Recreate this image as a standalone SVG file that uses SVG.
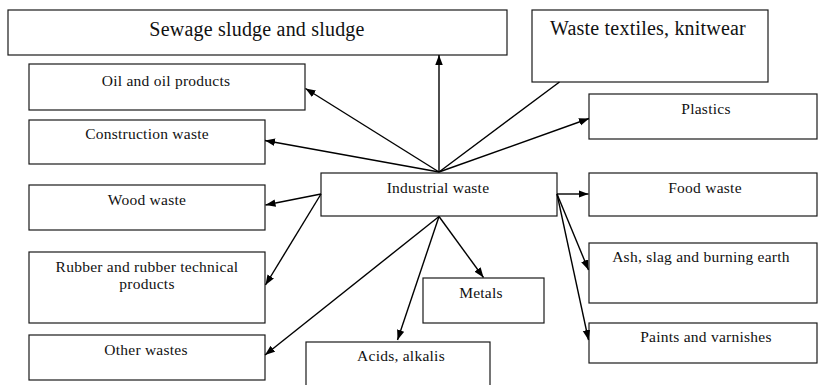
<svg xmlns="http://www.w3.org/2000/svg" width="818" height="385" viewBox="0 0 818 385">
<style>
.box{fill:#fff;stroke:#1a1a1a;stroke-width:1.2}
.t{font-family:"Liberation Serif","Times New Roman",serif;font-size:15.5px;letter-spacing:0.25px;fill:#111;text-anchor:middle}
.tl{font-family:"Liberation Serif","Times New Roman",serif;font-size:20px;letter-spacing:0.2px;fill:#111;text-anchor:middle}
.c{stroke:#000;stroke-width:1.4;fill:none}
.a{marker-end:url(#arr)}
</style>
<defs>
<marker id="arr" markerUnits="userSpaceOnUse" markerWidth="11" markerHeight="8" refX="10" refY="3.75" orient="auto">
<path d="M0,0 L10,3.75 L0,7.5 z" fill="#000"/>
</marker>
</defs>
<rect width="818" height="385" fill="#fff"/>
<g id="sewage"><rect class="box" x="8" y="10" width="499" height="45"/><text class="tl" x="257" y="36">Sewage sludge and sludge</text></g>
<g id="textiles"><rect class="box" x="532" y="10" width="236" height="72"/><text class="tl" x="648" y="35">Waste textiles, knitwear</text></g>
<g id="oil"><rect class="box" x="29" y="64" width="276" height="46"/><text class="t" x="166" y="86">Oil and oil products</text></g>
<g id="construction"><rect class="box" x="29" y="120" width="236" height="44"/><text class="t" x="147" y="139">Construction waste</text></g>
<g id="wood"><rect class="box" x="29" y="185" width="236" height="45"/><text class="t" x="147" y="205">Wood waste</text></g>
<g id="rubber"><rect class="box" x="29" y="252" width="236" height="71"/><text class="t" x="147" y="272">Rubber and rubber technical</text><text class="t" x="147" y="289">products</text></g>
<g id="other"><rect class="box" x="29" y="335" width="236" height="45"/><text class="t" x="146" y="355">Other wastes</text></g>
<g id="industrial"><rect class="box" x="321" y="173" width="236" height="43"/><text class="t" x="438" y="193">Industrial waste</text></g>
<g id="plastics"><rect class="box" x="589" y="94" width="228" height="45"/><text class="t" x="706" y="114">Plastics</text></g>
<g id="food"><rect class="box" x="589" y="173" width="228" height="43"/><text class="t" x="705" y="193">Food waste</text></g>
<g id="ash"><rect class="box" x="589" y="243" width="228" height="60"/><text class="t" x="701" y="262">Ash, slag and burning earth</text></g>
<g id="paints"><rect class="box" x="589" y="323" width="228" height="40"/><text class="t" x="706" y="342">Paints and varnishes</text></g>
<g id="metals"><rect class="box" x="423" y="278" width="121" height="45"/><text class="t" x="481" y="298">Metals</text></g>
<g id="acids"><rect class="box" x="306" y="342" width="184" height="60"/><text class="t" x="401" y="361">Acids, alkalis</text></g>
<g id="connectors">
<line class="c a" x1="439" y1="172" x2="439" y2="55"/>
<line class="c a" x1="439" y1="172" x2="305.5" y2="88.5"/>
<line class="c a" x1="439" y1="172" x2="265" y2="140.5"/>
<line class="c" x1="439" y1="172" x2="559.5" y2="82"/>
<line class="c a" x1="439" y1="172" x2="589" y2="118.5"/>
<line class="c a" x1="321" y1="194" x2="265.5" y2="205"/>
<line class="c a" x1="321" y1="194" x2="265.5" y2="285"/>
<line class="c a" x1="439" y1="216.5" x2="265" y2="355"/>
<line class="c a" x1="439" y1="216.5" x2="397.5" y2="340"/>
<line class="c a" x1="439" y1="216.5" x2="483.5" y2="277.5"/>
<line class="c a" x1="557" y1="194" x2="588.5" y2="194"/>
<line class="c a" x1="557" y1="194" x2="588.5" y2="270"/>
<line class="c a" x1="557" y1="194" x2="588.5" y2="340"/>
</g>
</svg>
